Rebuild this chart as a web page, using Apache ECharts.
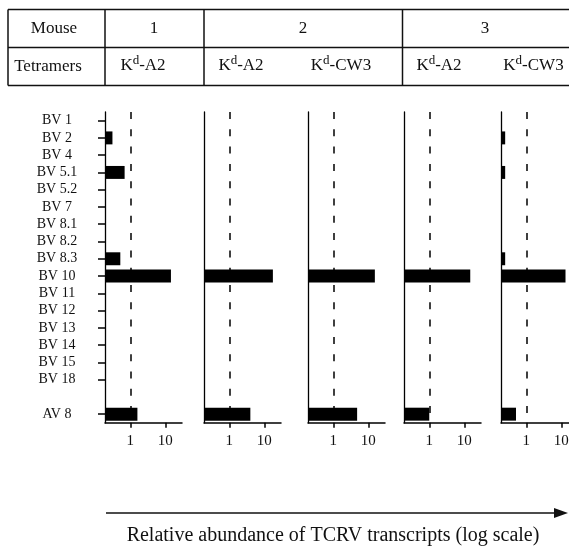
<!DOCTYPE html>
<html>
<head>
<meta charset="utf-8">
<script src="https://cdn.jsdelivr.net/npm/echarts@6/dist/echarts.min.js"></script>
<style>
html,body{margin:0;padding:0;background:#fff;}
#chart{width:569px;height:546px;}
</style>
</head>
<body>
<div id="chart"></div>
<script>
// ---- data ----
const categories = ['BV 1','BV 2','BV 4','BV 5.1','BV 5.2','BV 7','BV 8.1','BV 8.2','BV 8.3','BV 10','BV 11','BV 12','BV 13','BV 14','BV 15','BV 18','','AV 8'];
// relative abundance per category (null = no bar)
const mouse1_A2  = [null,0.31,null,0.69,null,null,null,null,0.52,14.5,null,null,null,null,null,null,null,1.6];
const mouse2_A2  = [null,null,null,null,null,null,null,null,null,17.6,null,null,null,null,null,null,null,4.0];
const mouse2_CW3 = [null,null,null,null,null,null,null,null,null,15.4,null,null,null,null,null,null,null,4.8];
const mouse3_A2  = [null,null,null,null,null,null,null,null,null,14.8,null,null,null,null,null,null,null,1.0];
const mouse3_CW3 = [null,0.25,null,0.25,null,null,null,null,0.25,13.2,null,null,null,null,null,null,null,0.51];
const tickValues = [1, 10];
const refValue = 1;
const mouseLabels = ['Mouse','1','2','3'];
const tetramerLabels = ['Tetramers','K|d|-A2','K|d|-A2','K|d|-CW3','K|d|-A2','K|d|-CW3'];
const axisTitle = 'Relative abundance of TCRV transcripts (log scale)';

// ---- layout ----
const FONT = '"Liberation Serif", "DejaVu Serif", serif';
const XMIN = 0.19, XMAX = 30;
const panelLefts = [105, 204, 308, 404, 501];
const panelWidth = 77;
const gridTop = 112, gridBottom = 546 - 422.8;
const panels = [mouse1_A2, mouse2_A2, mouse2_CW3, mouse3_A2, mouse3_CW3];

const grids = [], xAxes = [], yAxes = [], series = [];
panels.forEach((vals, p) => {
  grids.push({left: panelLefts[p], width: panelWidth, top: gridTop, bottom: gridBottom, outerBoundsMode: 'none', containLabel: false});
  xAxes.push({
    type: 'log', logBase: 10, gridIndex: p, min: XMIN, max: XMAX,
    axisLine: {show: true, onZero: false, lineStyle: {color: '#000', width: 1.5}},
    axisTick: {show: true, inside: false, length: 5, customValues: tickValues, lineStyle: {color: '#000', width: 1.5}},
    axisLabel: {show: true, customValues: tickValues, margin: 11, color: '#111', fontFamily: FONT, fontSize: 15,
                formatter: v => String(v)},
    splitLine: {show: false}, minorTick: {show: false}
  });
  yAxes.push({
    type: 'category', gridIndex: p, data: categories, inverse: true,
    axisLine: {show: true, onZero: false, lineStyle: {color: '#000', width: 1.3}},
    axisTick: {show: p === 0, alignWithLabel: true, length: 7, interval: (i, v) => v !== '',
               lineStyle: {color: '#000', width: 1.5}},
    axisLabel: {show: p === 0, interval: 0, margin: 48, align: 'center', color: '#111', fontFamily: FONT, fontSize: 14},
    splitLine: {show: false}
  });
  const data = [];
  vals.forEach((v, i) => { if (v != null) data.push([v, i]); });
  series.push({
    type: 'custom', xAxisIndex: p, yAxisIndex: p, data: data, encode: {x: 0, y: 1},
    renderItem: (params, api) => {
      const end = api.coord([api.value(0), api.value(1)]);
      const start = api.coord([XMIN, api.value(1)]);
      const h = api.size([0, 1])[1] * 0.75;
      return {type: 'rect', shape: {x: start[0], y: end[1] - h / 2, width: end[0] - start[0], height: h},
              style: {fill: '#000'}};
    },
    markLine: {
      silent: true, symbol: ['none', 'none'], label: {show: false}, animation: false,
      lineStyle: {color: '#000', width: 1.5, type: [7, 10.3]},
      data: [{xAxis: refValue}]
    }
  });
});

// ---- header table & bottom arrow ----
const G = [];
const line = (x1, y1, x2, y2, w) => G.push({type: 'line', shape: {x1, y1, x2, y2}, style: {stroke: '#111', lineWidth: w || 1.5}, silent: true});
[9.5, 47.5, 85.5].forEach(y => line(8, y, 569, y));
[8, 105, 204, 402.5].forEach(x => line(x, 9.5, x, 85.5));
const txt = (s, x, y, align, size) => G.push({type: 'text', x, y, silent: true,
  style: {text: s, fill: '#111', font: (size || 17) + 'px ' + FONT, align: align || 'center', verticalAlign: 'middle'}});
const mouseX = [54, 154, 303, 485];
mouseLabels.forEach((s, i) => txt(s, mouseX[i], 29));
txt(tetramerLabels[0], 48, 67);
const tetX = [143, 241, 341, 439, 533.5];
tetramerLabels.slice(1).forEach((s, i) => {
  const parts = s.split('|');
  G.push({type: 'text', x: tetX[i], y: 66, silent: true, style: {
    text: '{n|' + parts[0] + '}{s|' + parts[1] + '}{n|' + parts[2] + '}',
    align: 'center', verticalAlign: 'middle',
    rich: {
      n: {fontFamily: FONT, fontSize: 17, fill: '#111', verticalAlign: 'bottom', lineHeight: 17},
      s: {fontFamily: FONT, fontSize: 13, fill: '#111', verticalAlign: 'bottom', lineHeight: 13, padding: [0, 0, 7, 0]}
    }
  }});
});
line(106, 513, 557, 513, 1.5);
G.push({type: 'polygon', shape: {points: [[554, 508], [568, 513], [554, 518]]}, style: {fill: '#111'}, silent: true});
txt(axisTitle, 333, 536, 'center', 20);

const chart = echarts.init(document.getElementById('chart'), null, {renderer: 'canvas'});
chart.setOption({
  animation: false,
  backgroundColor: '#fff',
  grid: grids, xAxis: xAxes, yAxis: yAxes, series: series,
  graphic: G
});
</script>
</body>
</html>
